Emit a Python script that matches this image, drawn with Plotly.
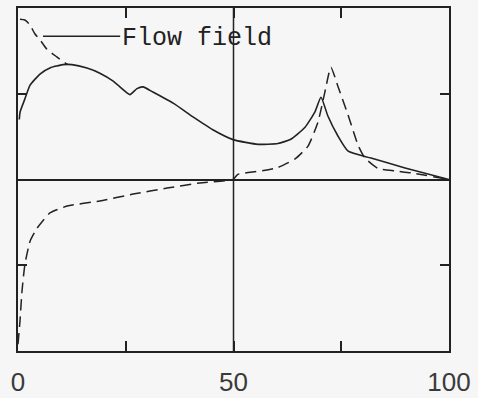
import plotly.graph_objects as go

# Solid curve ("Flow field")
solid_x = [0.3, 0.5, 1.6, 2.8, 5.1, 7.4, 10.4, 12.5, 16.0, 19.0, 22.0, 25.3, 26.0, 27.6, 29.0, 31.3,
           36.0, 40.6, 45.2, 49.9, 55.7, 60.3, 63.3, 66.6, 68.9, 70.3, 71.9, 74.2, 76.6, 81.9, 89.8, 100.0]
solid_y = [0.70, 0.79, 0.94, 1.10, 1.23, 1.30, 1.34, 1.34, 1.30, 1.24, 1.15, 1.01, 0.99, 1.06, 1.08, 1.02,
           0.89, 0.73, 0.58, 0.465, 0.41, 0.42, 0.47, 0.61, 0.79, 0.96, 0.74, 0.51, 0.33, 0.25, 0.135, 0.0]

# Dashed curve, upper-left branch
dash_top_x = [0.46, 1.6, 2.8, 3.9, 5.1, 6.7, 9.0, 10.9, 11.6]
dash_top_y = [1.87, 1.86, 1.80, 1.70, 1.63, 1.52, 1.43, 1.36, 1.34]

# Dashed curve, main branch
dash_x = [0.0, 0.46, 0.93, 1.6, 2.8, 4.4, 7.4, 11.4, 19.0, 26.7, 34.6, 42.2, 49.9, 51.0, 55.7, 60.3,
          64.3, 67.3, 69.6, 71.2, 72.6, 74.2, 76.6, 78.9, 80.5, 83.5, 87.5, 91.2, 100.0]
dash_y = [-1.92, -1.65, -1.30, -0.99, -0.72, -0.57, -0.39, -0.31, -0.25, -0.17, -0.10, -0.04, 0.0, 0.06,
          0.095, 0.14, 0.24, 0.39, 0.67, 1.02, 1.31, 1.09, 0.75, 0.40, 0.25, 0.13, 0.10, 0.077, 0.0]

x_tick_vals = [0, 25, 50, 75, 100]
x_tick_text = ["0", "", "50", "", "100"]
y_tick_vals = [-1, 1]
divider_x = 50
label_text = "Flow field"
label_line_x = [5.8, 23.7]
label_y = 1.67

ink = "#222222"
bg = "#f6f6f6"

fig = go.Figure()
fig.add_trace(go.Scatter(x=solid_x, y=solid_y, mode="lines",
                         line=dict(color=ink, width=1.6, shape="spline", smoothing=0.5),
                         showlegend=False, hoverinfo="skip"))
fig.add_trace(go.Scatter(x=dash_top_x, y=dash_top_y, mode="lines",
                         line=dict(color=ink, width=1.5, dash="10px,6px", shape="spline", smoothing=0.6),
                         showlegend=False, hoverinfo="skip"))
fig.add_trace(go.Scatter(x=dash_x, y=dash_y, mode="lines",
                         line=dict(color=ink, width=1.5, dash="11px,6px", shape="spline", smoothing=0.5),
                         showlegend=False, hoverinfo="skip"))
# leader line for label
fig.add_trace(go.Scatter(x=label_line_x, y=[label_y, label_y], mode="lines", line=dict(color=ink, width=1.5),
                         showlegend=False, hoverinfo="skip"))

fig.add_vline(x=divider_x, line=dict(color=ink, width=1.5))

fig.add_annotation(x=label_line_x[1], y=label_y - 0.03, text=label_text, showarrow=False,
                   xanchor="left", yanchor="middle",
                   font=dict(family="Liberation Mono, Courier New, monospace", size=25, color=ink))

fig.update_layout(
    width=478, height=398,
    margin=dict(l=18, r=29, t=8, b=47, autoexpand=False),
    paper_bgcolor=bg, plot_bgcolor=bg,
    xaxis=dict(range=[0, 100], showgrid=False, zeroline=False, showline=True, linecolor=ink, linewidth=2,
               mirror="allticks", ticks="inside", ticklen=10, tickwidth=1.5, tickcolor=ink, automargin=False,
               tickvals=x_tick_vals, ticktext=x_tick_text, ticklabelstandoff=7,
               tickfont=dict(family="Liberation Sans, Arial", size=26, color="#3a3a3a")),
    yaxis=dict(range=[-2, 2], showgrid=False, zeroline=True, zerolinecolor=ink, zerolinewidth=1.6,
               showline=True, linecolor=ink, linewidth=2, mirror="allticks", ticks="inside", ticklen=9,
               tickwidth=1.5, tickcolor=ink, tickvals=y_tick_vals, showticklabels=False, automargin=False),
)

fig.write_html("out.html")
